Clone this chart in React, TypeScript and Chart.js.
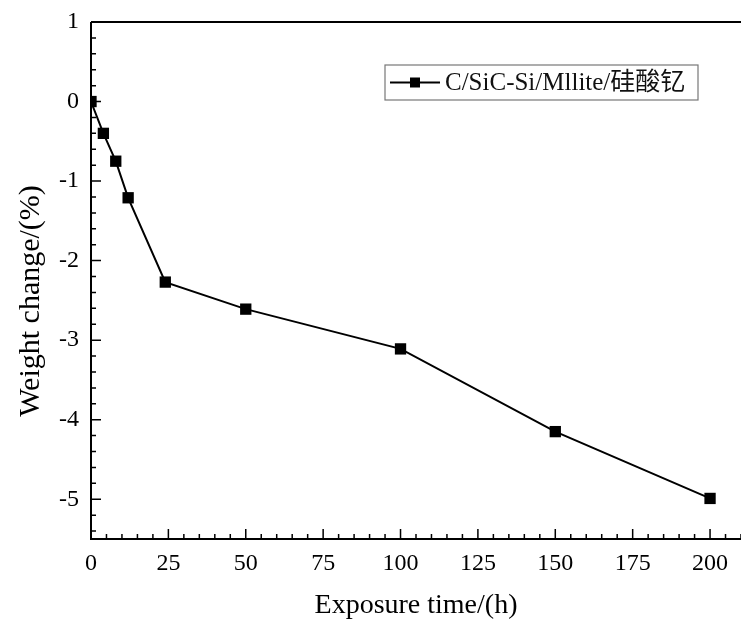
import React, { useEffect, useRef } from "react";
import { Chart, registerables } from "chart.js";

Chart.register(...registerables);

const seriesLabel = "C/SiC-Si/Mllite/硅酸钇";
const exposureHours = [0, 4, 8, 12, 24, 50, 100, 150, 200];
const weightChange = [0, -0.4, -0.75, -1.21, -2.27, -2.61, -3.11, -4.15, -4.99];
const xTickValues = [0, 25, 50, 75, 100, 125, 150, 175, 200];
const yTickValues = [1, 0, -1, -2, -3, -4, -5];
const xTitle = "Exposure time/(h)";
const yTitle = "Weight change/(%)";

const SERIF = "'Liberation Serif', 'Times New Roman', 'Noto Sans CJK SC', serif";

const framePlugin = {
  id: "frameTicks",
  afterDatasetsDraw(chart: any) {
    const { ctx, chartArea: a, scales } = chart;
    const x = scales.x;
    const y = scales.y;
    ctx.save();
    ctx.strokeStyle = "#000";
    ctx.lineWidth = 2;
    ctx.beginPath();
    ctx.moveTo(a.left, a.top);
    ctx.lineTo(a.right + 2, a.top);
    ctx.moveTo(a.left, a.top);
    ctx.lineTo(a.left, a.bottom);
    ctx.lineTo(a.right + 2, a.bottom);
    ctx.stroke();
    ctx.lineWidth = 1.5;
    ctx.beginPath();
    for (let i = 0; i * 5 <= x.max; i++) {
      const v = i * 5;
      const px = x.getPixelForValue(v);
      const len = v % 25 === 0 ? 10 : 5;
      ctx.moveTo(px, a.bottom);
      ctx.lineTo(px, a.bottom - len);
    }
    for (let k = Math.ceil(y.min * 5); k <= Math.floor(y.max * 5); k++) {
      const v = k / 5;
      const py = y.getPixelForValue(v);
      const len = k % 5 === 0 ? 10 : 5;
      ctx.moveTo(a.left, py);
      ctx.lineTo(a.left + len, py);
    }
    ctx.stroke();
    // y-axis title
    ctx.save();
    ctx.translate(31, 301);
    ctx.rotate(-Math.PI / 2);
    ctx.font = "30px " + SERIF;
    ctx.fillStyle = "#000";
    ctx.textAlign = "center";
    ctx.textBaseline = "middle";
    ctx.fillText(yTitle, 0, 0);
    ctx.restore();
    ctx.restore();
  },
};

const legendPlugin = {
  id: "boxLegend",
  afterDraw(chart: any) {
    const { ctx } = chart;
    const label = chart.data.datasets[0].label;
    const bx = 385, by = 65, bw = 313, bh = 35;
    ctx.save();
    ctx.strokeStyle = "#777";
    ctx.lineWidth = 1.2;
    ctx.strokeRect(bx, by, bw, bh);
    const cy = by + bh / 2;
    ctx.strokeStyle = "#000";
    ctx.lineWidth = 2;
    ctx.beginPath();
    ctx.moveTo(bx + 5, cy);
    ctx.lineTo(bx + 55, cy);
    ctx.stroke();
    ctx.fillStyle = "#000";
    ctx.fillRect(bx + 30 - 5, cy - 5, 10, 10);
    ctx.font = "25px " + SERIF;
    ctx.textBaseline = "middle";
    ctx.textAlign = "left";
    ctx.fillStyle = "#111";
    ctx.fillText(label, bx + 60, cy + 1);
    ctx.restore();
  },
};

export default function App() {
  const ref = useRef<HTMLCanvasElement | null>(null);
  useEffect(() => {
    if (!ref.current) return;
    const chart = new Chart(ref.current, {
      type: "line",
      data: {
        datasets: [
          {
            label: seriesLabel,
            data: exposureHours.map((h, i) => ({ x: h, y: weightChange[i] })),
            borderColor: "#000",
            backgroundColor: "#000",
            borderWidth: 2,
            pointStyle: "rect",
            pointRadius: 8,
            pointHoverRadius: 8,
            pointBorderWidth: 0,
            tension: 0,
            clip: 0,
          } as any,
        ],
      },
      options: {
        animation: false,
        responsive: false,
        devicePixelRatio: 1,
        layout: { autoPadding: false, padding: { top: 22, right: 0, left: 0, bottom: 0 } },
        plugins: {
          legend: { display: false },
          tooltip: { enabled: false },
        },
        scales: {
          x: {
            type: "linear",
            min: 0,
            max: 210,
            afterBuildTicks: (s: any) => {
              s.ticks = xTickValues.map((v) => ({ value: v }));
            },
            afterFit: (s: any) => {
              s.height = 91;
              s.paddingRight = 0;
              s.paddingLeft = 0;
            },
            grid: { display: false, drawTicks: false },
            border: { display: false },
            ticks: {
              padding: 10,
              color: "#000",
              font: { family: SERIF, size: 24 },
              maxRotation: 0,
              callback: (v: any) => String(v),
            },
            title: {
              display: true,
              text: xTitle,
              color: "#000",
              font: { family: SERIF, size: 28 },
              padding: { top: 0, bottom: 8 },
            },
          },
          y: {
            type: "linear",
            min: -5.5,
            max: 1,
            afterBuildTicks: (s: any) => {
              s.ticks = yTickValues.map((v) => ({ value: v }));
            },
            afterFit: (s: any) => {
              s.width = 91;
              s.paddingTop = 0;
              s.paddingBottom = 0;
            },
            grid: { display: false, drawTicks: false },
            border: { display: false },
            ticks: {
              padding: 12,
              color: "#000",
              font: { family: SERIF, size: 24 },
              callback: (v: any) => String(v),
            },
            title: { display: false },
          },
        },
      },
      plugins: [framePlugin, legendPlugin],
    });
    return () => chart.destroy();
  }, []);
  return (
    <div style={{ position: "absolute", left: 0, top: 0, width: 741, height: 630, background: "#fff" }}>
      <canvas ref={ref} width={741} height={630} style={{ display: "block" }} />
    </div>
  );
}
